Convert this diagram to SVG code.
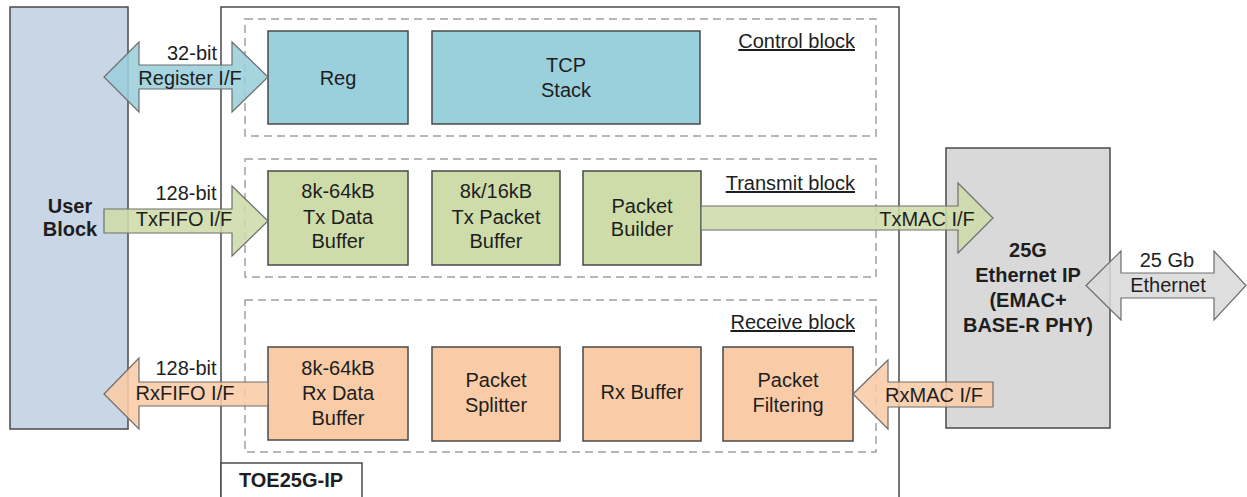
<svg xmlns="http://www.w3.org/2000/svg" width="1247" height="497" viewBox="0 0 1247 497">
<style>
text{font-family:"Liberation Sans",Arial,sans-serif;font-size:20px;fill:#1e1e1e;text-anchor:middle}
.b{font-weight:bold}
.lbl{text-anchor:end;text-decoration:underline}
.box{stroke:#4a4a4a;stroke-width:1.5}
.ctl{fill:#9acfdc}
.tx{fill:#cedcaa}
.rx{fill:#f9cba6}
.dash{fill:none;stroke:#a0a0a0;stroke-width:1.5;stroke-dasharray:8 5}
.arr{stroke:#6e6e6e;stroke-width:1.2;fill-opacity:0.88}
</style>
<rect width="1247" height="497" fill="#ffffff"/>
<g id="user-block">
<rect x="10" y="7" width="118" height="422" fill="#c8d6e6" class="box"/>
<text x="70" y="213" class="b">User</text>
<text x="70" y="236" class="b">Block</text>
</g>
<g id="toe25g-ip">
<rect x="221" y="7" width="678" height="500" fill="#ffffff" class="box"/>
<rect x="221" y="463" width="141" height="40" fill="#ffffff" class="box"/>
<text x="291" y="487" class="b">TOE25G-IP</text>
</g>
<g id="control-block">
<rect x="245" y="19" width="631" height="117" class="dash"/>
<text x="855" y="48" class="lbl">Control block</text>
</g>
<g id="transmit-block">
<rect x="245" y="159" width="631" height="118" class="dash"/>
<text x="855" y="190" class="lbl">Transmit block</text>
</g>
<g id="receive-block">
<rect x="245" y="300" width="631" height="152" class="dash"/>
<text x="855" y="329" class="lbl">Receive block</text>
</g>
<g id="reg">
<rect x="268" y="31" width="140" height="93" class="box ctl"/>
<text x="338" y="85">Reg</text>
</g>
<g id="tcp-stack">
<rect x="432" y="31" width="268" height="93" class="box ctl"/>
<text x="566" y="72">TCP</text>
<text x="566" y="97">Stack</text>
</g>
<g id="tx-data-buffer">
<rect x="268" y="171" width="140" height="94" class="box tx"/>
<text x="338" y="198">8k-64kB</text>
<text x="338" y="224">Tx Data</text>
<text x="338" y="248">Buffer</text>
</g>
<g id="tx-packet-buffer">
<rect x="432" y="171" width="128" height="94" class="box tx"/>
<text x="496" y="198">8k/16kB</text>
<text x="496" y="224">Tx Packet</text>
<text x="496" y="248">Buffer</text>
</g>
<g id="packet-builder">
<rect x="583" y="171" width="118" height="94" class="box tx"/>
<text x="642" y="213">Packet</text>
<text x="642" y="236">Builder</text>
</g>
<g id="rx-data-buffer">
<rect x="268" y="347" width="140" height="93" class="box rx"/>
<text x="338" y="375">8k-64kB</text>
<text x="338" y="400">Rx Data</text>
<text x="338" y="425">Buffer</text>
</g>
<g id="packet-splitter">
<rect x="432" y="347" width="128" height="94" class="box rx"/>
<text x="496" y="387">Packet</text>
<text x="496" y="412">Splitter</text>
</g>
<g id="rx-buffer">
<rect x="583" y="347" width="118" height="94" class="box rx"/>
<text x="642" y="399">Rx Buffer</text>
</g>
<g id="packet-filtering">
<rect x="723" y="347" width="130" height="94" class="box rx"/>
<text x="788" y="387">Packet</text>
<text x="788" y="412">Filtering</text>
</g>
<g id="ethernet-ip">
<rect x="946" y="148" width="164" height="280" fill="#d9d9d9" class="box"/>
<text x="1028" y="257" class="b">25G</text>
<text x="1028" y="282" class="b">Ethernet IP</text>
<text x="1028" y="307" class="b">(EMAC+</text>
<text x="1028" y="332" class="b">BASE-R PHY)</text>
</g>
<g id="connectors">
<polygon class="arr ctl" points="104,77 139,42 139,65 232,65 232,42 268,77 232,112 232,89 139,89 139,112"/>
<polygon class="arr tx" points="104,209 232,209 232,186 268,221 232,256 232,233 104,233"/>
<polygon class="arr rx" points="104,394 139,358 139,382 268,382 268,406 139,406 139,429"/>
<polygon class="arr tx" points="701,206 958,206 958,183 993,218 958,253 958,230 701,230"/>
<polygon class="arr rx" points="853,394 888,360 888,382 993,382 993,407 888,407 888,429"/>
<polygon class="arr" fill="#d9d9d9" points="1086,285.5 1121,251 1121,273 1214,273 1214,251 1246,285.5 1214,320 1214,298 1121,298 1121,320"/>
<text x="192" y="60">32-bit</text>
<text x="190" y="85">Register I/F</text>
<text x="186" y="200">128-bit</text>
<text x="184" y="226">TxFIFO I/F</text>
<text x="186" y="375">128-bit</text>
<text x="185" y="400">RxFIFO I/F</text>
<text x="927" y="226">TxMAC I/F</text>
<text x="934" y="402">RxMAC I/F</text>
<text x="1167" y="267">25 Gb</text>
<text x="1168" y="292">Ethernet</text>
</g>
</svg>
